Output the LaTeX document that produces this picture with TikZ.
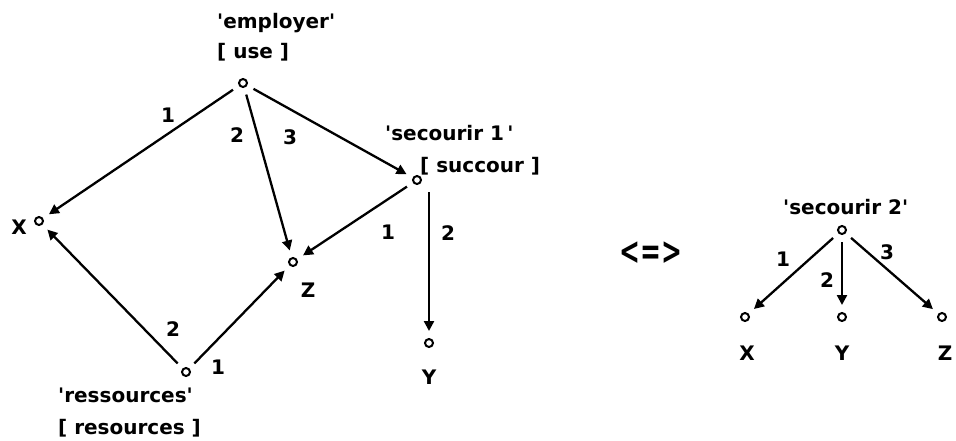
\documentclass[tikz,border=0pt]{standalone}
\usepackage{fontspec}
\setmainfont{DejaVu Sans}
\usetikzlibrary{arrows.meta}
\newcommand\sq{\textquotesingle}
\begin{document}
\begin{tikzpicture}[x=1pt,y=-1pt,
  vtx/.style={circle,draw,line width=2pt,minimum size=8pt,inner sep=0pt,outer sep=8pt},
  txt/.style={inner sep=0pt,font=\fontsize{20}{23}\selectfont\bfseries},
  ltxt/.style={txt,anchor=base west},
  lab/.style={txt},
  arc/.style={line width=2.3pt,-{Triangle[length=10pt,width=10pt]}}]
\useasboundingbox (0,0) rectangle (956,440);
% left graph vertices
\node[vtx] (emp) at (243,83) {};
\node[vtx] (sec) at (417,180) {};
\node[vtx] (x) at (39,221) {};
\node[vtx] (z) at (293,262) {};
\node[vtx] (y) at (429,343) {};
\node[vtx] (res) at (186,372) {};
% texts
\node[ltxt] (tEmp) at (217,28) {\sq employer\sq};
\node[ltxt] (tUse) at (217,58) {[ use ]};
\node[ltxt] (tSec) at (385,140) {\sq secourir 1\,\sq};
\node[ltxt] (tSuc) at (420,172) {[ succour ]};
\node[txt] (tX) at (19,227) {X};
\node[txt] (tZ) at (308,290) {Z};
\node[txt] (tY) at (429,377) {Y};
\node[ltxt] (tRes) at (58,402) {\sq ressources\sq};
\node[ltxt] (tRsc) at (58,434) {[ resources ]};
% arcs
\draw[arc] (emp) -- (x);
\draw[arc] (emp) -- (z);
\draw[arc] (emp) -- (sec);
\draw[arc] (sec) -- (z);
\draw[arc] (sec.south -| y) -- (y);
\draw[arc] (res) -- (x);
\draw[arc] (res) -- (z);
% arc labels
\node[lab] (l1) at (168,115) {1};
\node[lab] (l2) at (237,135) {2};
\node[lab] (l3) at (290,137) {3};
\node[lab] (l4) at (388,232) {1};
\node[lab] (l5) at (448,233) {2};
\node[lab] (l6) at (173,329) {2};
\node[lab] (l7) at (218,367) {1};
% equivalence
\node[txt] (eq) at (651,253) {\scalebox{1.25}[1.9]{<=>}};
% right graph
\node[ltxt] (tSec2) at (783,214) {\sq secourir 2\sq};
\node[vtx] (s2) at (842,230) {};
\node[vtx] (x2) at (745,317) {};
\node[vtx] (y2) at (842,317) {};
\node[vtx] (z2) at (942,317) {};
\node[txt] (tX2) at (747,353) {X};
\node[txt] (tY2) at (842,353) {Y};
\node[txt] (tZ2) at (945,353) {Z};
\draw[arc] (s2) -- (x2);
\draw[arc] (s2) -- (y2);
\draw[arc] (s2) -- (z2);
\node[lab] (m1) at (783,259) {1};
\node[lab] (m2) at (827,280) {2};
\node[lab] (m3) at (887,252) {3};
\end{tikzpicture}
\end{document}
